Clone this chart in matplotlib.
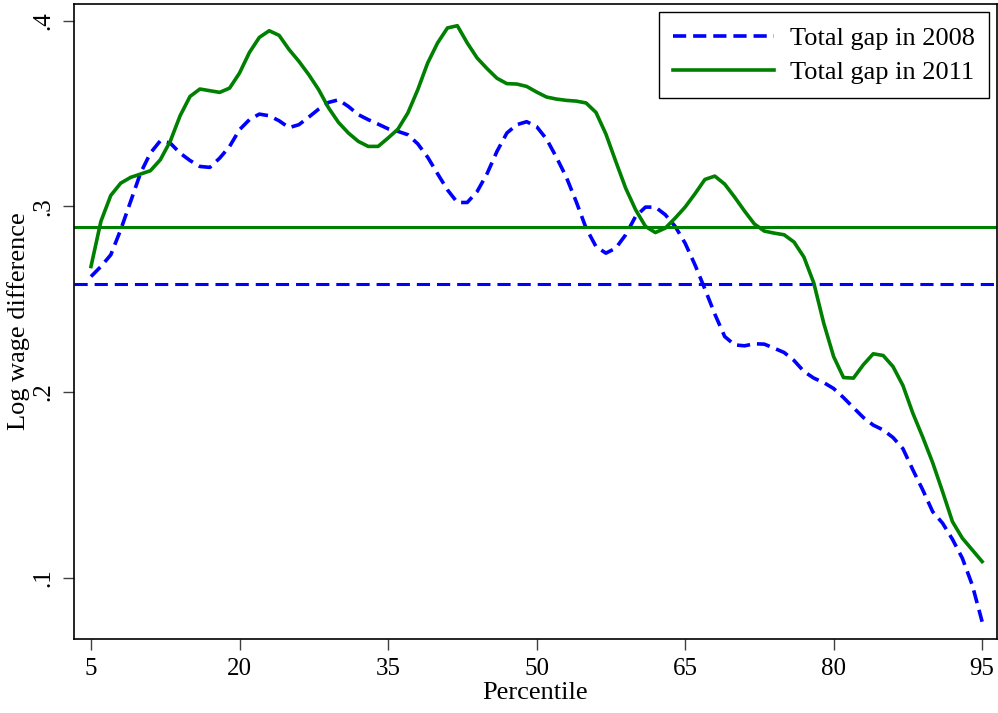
import numpy as np
import matplotlib
matplotlib.use("Agg")
import matplotlib.pyplot as plt

# percentiles 5..95
percentile = list(range(5, 96))

gap_2008 = [0.2622, 0.2676, 0.2739, 0.2874, 0.3026, 0.3179, 0.3287, 0.3353, 0.3341, 0.3287,
            0.3247, 0.3215, 0.3210, 0.3260, 0.3323, 0.3413, 0.3467, 0.3497, 0.3488, 0.3461,
            0.3424, 0.3440, 0.3481, 0.3524, 0.3560, 0.3574, 0.3538, 0.3494, 0.3467, 0.3443,
            0.3418, 0.3404, 0.3386, 0.3337, 0.3265, 0.3176, 0.3089, 0.3021, 0.3021, 0.3080,
            0.3176, 0.3296, 0.3395, 0.3440, 0.3456, 0.3430, 0.3363, 0.3265, 0.3158, 0.3026,
            0.2883, 0.2784, 0.2748, 0.2775, 0.2847, 0.2946, 0.2996, 0.2996, 0.2955, 0.2892,
            0.2802, 0.2685, 0.2555, 0.2420, 0.2299, 0.2254, 0.2249, 0.2260, 0.2258, 0.2236,
            0.2213, 0.2170, 0.2111, 0.2075, 0.2051, 0.2019, 0.1970, 0.1916, 0.1863, 0.1822,
            0.1796, 0.1755, 0.1695, 0.1581, 0.1473, 0.1356, 0.1294, 0.1207, 0.1105, 0.0961,
            0.0763]

gap_2011 = [0.2676, 0.2919, 0.3059, 0.3125, 0.3156, 0.3174, 0.3192, 0.3251, 0.3350, 0.3488,
            0.3592, 0.3632, 0.3623, 0.3614, 0.3637, 0.3718, 0.3829, 0.3910, 0.3946, 0.3921,
            0.3845, 0.3781, 0.3709, 0.3628, 0.3530, 0.3452, 0.3395, 0.3350, 0.3323, 0.3323,
            0.3368, 0.3416, 0.3503, 0.3628, 0.3772, 0.3880, 0.3961, 0.3973, 0.3880, 0.3799,
            0.3742, 0.3690, 0.3661, 0.3659, 0.3646, 0.3616, 0.3589, 0.3578, 0.3571, 0.3567,
            0.3557, 0.3506, 0.3390, 0.3242, 0.3098, 0.2982, 0.2892, 0.2859, 0.2883, 0.2937,
            0.2996, 0.3068, 0.3145, 0.3163, 0.3120, 0.3050, 0.2975, 0.2905, 0.2867, 0.2856,
            0.2847, 0.2808, 0.2727, 0.2587, 0.2371, 0.2191, 0.2078, 0.2075, 0.2147, 0.2206,
            0.2197, 0.2137, 0.2035, 0.1886, 0.1757, 0.1620, 0.1464, 0.1302, 0.1213, 0.1150,
            0.1087]

# averages drawn as horizontal lines
mean_2008 = 0.2583
mean_2011 = 0.2890

xticks = [5, 20, 35, 50, 65, 80, 95]
yticks = [0.1, 0.2, 0.3, 0.4]
ytick_labels = [".1", ".2", ".3", ".4"]

plt.rcParams['font.family'] = ['Liberation Serif', 'DejaVu Serif']
plt.rcParams['lines.scale_dashes'] = False

fig = plt.figure(figsize=(9.98, 7.13), dpi=100)
ax = fig.add_axes([0.0741, 0.1038, 0.9249, 0.8906])

dash = (9.5, 5)
ax.plot(percentile, gap_2008, color='#0000ff', lw=2.6, dashes=dash, label="Total gap in 2008")
ax.plot(percentile, gap_2011, color='#008000', lw=2.6, label="Total gap in 2011")
ax.axhline(mean_2008, color='#0000ff', lw=2.2, dashes=dash)
ax.axhline(mean_2011, color='#008000', lw=2.2)

ax.set_xlim(3.28, 96.5)
ax.set_ylim(0.067, 0.409)
ax.set_xticks(xticks)
ax.set_xticklabels([str(t) for t in xticks])
ax.set_yticks(yticks)
ax.set_yticklabels(ytick_labels, rotation=90, va='center')

ax.tick_params(direction='out', length=8, width=1, color='#404040', labelsize=18, pad=6)
for s in ax.spines.values():
    s.set_linewidth(1.2)
    s.set_color('black')

ax.set_xlabel("Percentile", fontsize=19, labelpad=1)
ax.set_ylabel("Log wage difference", fontsize=19, labelpad=2)

leg = ax.legend(loc='upper right', fontsize=19, handlelength=3.8, handletextpad=0.6,
                labelspacing=0.4, borderaxespad=0.3, fancybox=False, framealpha=1,
                edgecolor='black', borderpad=0.55)
leg.get_frame().set_linewidth(1.0)

fig.savefig("out.png", dpi=100)
